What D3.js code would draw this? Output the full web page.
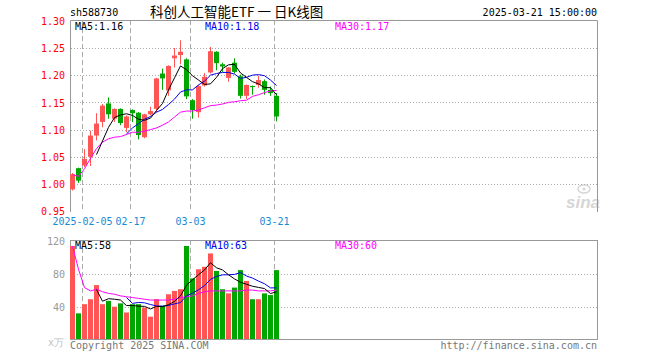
<!DOCTYPE html>
<html>
<head>
<meta charset="utf-8">
<script src="https://cdn.jsdelivr.net/npm/d3@7"></script>
<style>
  body { margin: 0; background: #fff; }
  text { font-family: "DejaVu Sans Mono", monospace; font-size: 10px; }
</style>
</head>
<body>
<div id="chart"></div>
<script>
// Data
const dates = [
  "2025-01-24", "2025-01-27", "2025-02-05", "2025-02-06", "2025-02-07",
  "2025-02-10", "2025-02-11", "2025-02-12", "2025-02-13", "2025-02-14",
  "2025-02-17", "2025-02-18", "2025-02-19", "2025-02-20", "2025-02-21",
  "2025-02-24", "2025-02-25", "2025-02-26", "2025-02-27", "2025-02-28",
  "2025-03-03", "2025-03-04", "2025-03-05", "2025-03-06", "2025-03-07",
  "2025-03-10", "2025-03-11", "2025-03-12", "2025-03-13", "2025-03-14",
  "2025-03-17", "2025-03-18", "2025-03-19", "2025-03-20", "2025-03-21",
];
const open = [
  0.991, 1.030, 1.035, 1.051, 1.090, 1.115, 1.149, 1.121, 1.139, 1.104,
  1.137, 1.132, 1.087, 1.129, 1.139, 1.204, 1.173, 1.232, 1.238, 1.230,
  1.155, 1.133, 1.182, 1.206, 1.244, 1.221, 1.196, 1.224, 1.199, 1.163,
  1.181, 1.183, 1.190, 1.174, 1.163,
];
const high = [
  1.021, 1.031, 1.065, 1.099, 1.131, 1.148, 1.160, 1.140, 1.140, 1.127,
  1.138, 1.133, 1.130, 1.143, 1.196, 1.213, 1.219, 1.251, 1.265, 1.232,
  1.157, 1.183, 1.205, 1.253, 1.245, 1.224, 1.216, 1.232, 1.202, 1.184,
  1.182, 1.200, 1.193, 1.180, 1.168,
];
const low = [
  0.989, 1.003, 1.032, 1.034, 1.081, 1.105, 1.121, 1.115, 1.109, 1.096,
  1.115, 1.083, 1.085, 1.127, 1.133, 1.174, 1.163, 1.215, 1.221, 1.157,
  1.121, 1.123, 1.180, 1.204, 1.210, 1.207, 1.189, 1.204, 1.158, 1.157,
  1.165, 1.178, 1.165, 1.163, 1.116,
];
const close = [
  1.019, 1.007, 1.047, 1.090, 1.112, 1.145, 1.129, 1.139, 1.113, 1.125,
  1.131, 1.091, 1.129, 1.135, 1.195, 1.195, 1.218, 1.237, 1.244, 1.162,
  1.137, 1.181, 1.198, 1.245, 1.223, 1.217, 1.215, 1.207, 1.163, 1.183,
  1.179, 1.192, 1.174, 1.168, 1.125,
];
const ma5 = [
  null, null, null, null, 1.055, 1.080, 1.105, 1.123, 1.128, 1.130,
  1.127, 1.120, 1.118, 1.122, 1.136, 1.149, 1.174, 1.196, 1.218, 1.211,
  1.200, 1.192, 1.184, 1.185, 1.197, 1.213, 1.220, 1.221, 1.205, 1.197,
  1.189, 1.185, 1.178, 1.178, 1.165,
];
const ma10 = [
  null, null, null, null, null, null, null, null, null, 1.093,
  1.104, 1.112, 1.120, 1.125, 1.133, 1.138, 1.147, 1.157, 1.170, 1.174,
  1.174, 1.183, 1.190, 1.201, 1.204, 1.206, 1.206, 1.203, 1.195, 1.197,
  1.201, 1.202, 1.200, 1.192, 1.182,
];
const ma30 = [
  1.018, 1.015, 1.029, 1.048, 1.066, 1.078, 1.084, 1.087, 1.088, 1.092,
  1.096, 1.096, 1.098, 1.101, 1.104, 1.109, 1.115, 1.124, 1.133, 1.135,
  1.135, 1.137, 1.141, 1.145, 1.146, 1.148, 1.151, 1.152, 1.154, 1.155,
  1.162, 1.165, 1.169, 1.172, 1.173,
];
const volume = [
  114, 33, 44, 50, 67, 44, 48, 41, 45, 34,
  44, 44, 40, 29, 50, 42, 56, 60, 62, 114,
  75, 86, 89, 105, 84, 62, 57, 64, 85, 72,
  50, 50, 57, 55, 85,
];
const vma5 = [
  null, null, null, null, 61.6, 47.6, 50.6, 50.0, 49.0, 42.4,
  42.4, 41.6, 41.4, 38.2, 41.4, 41.0, 43.4, 47.4, 54.0, 66.8,
  73.4, 79.4, 85.2, 93.8, 87.8, 85.2, 79.4, 74.4, 70.4, 68.0,
  65.6, 64.2, 62.8, 56.8, 59.0,
];
const vma10 = [
  null, null, null, null, null, null, null, null, null, 52.0,
  45.0, 46.1, 45.7, 43.6, 41.9, 41.7, 42.5, 44.4, 46.1, 54.1,
  57.2, 61.4, 66.3, 73.9, 77.3, 79.3, 79.4, 79.8, 82.1, 77.9,
  75.4, 71.8, 68.6, 63.6, 63.7,
];
const vma30 = [
  114, 86, 64, 60, 62, 59, 57, 56, 54, 53,
  52, 51, 50, 49, 49, 49, 49, 50, 52, 53,
  54, 57, 59, 60, 60, 60, 60, 60, 60, 61,
  61, 60, 60, 60, 61,
];
const priceTicks = [0.95, 1.0, 1.05, 1.1, 1.15, 1.2, 1.25, 1.3];
const volumeTicks = [40, 80, 120];
const dateTicks = ["2025-02-05", "2025-02-17", "2025-03-03", "2025-03-21"];
const dateLabels = ["2025-02-05", "02-17", "03-03", "03-21"];

function draw() {
  // Dimensions
  const dims = {
    width: 660,
    height: 360,
    left: 70,
    right: 597,
    priceTop: 20,
    priceBottom: 212,
    volTop: 240,
    volBottom: 340,
  };

  const red = "#ff5555";
  const green = "#00a600";
  const gridColor = "#aaaaaa";
  const borderColor = "#999999";

  const svg = d3
    .select("#chart")
    .append("svg")
    .attr("width", dims.width)
    .attr("height", dims.height)
    .style("background", "#fff");

  // Scales
  const xScale = d3
    .scaleBand()
    .domain(dates)
    .range([dims.left, dims.left + 6 * dates.length - 1])
    .paddingInner(1 / 6);
  const bw = xScale.bandwidth();
  const cx = (i) => xScale(dates[i]) + bw / 2;

  const yScale = d3.scaleLinear().domain([0.95, 1.3]).range([211.7, 21.3]);
  const vScale = d3.scaleLinear().domain([0, 120]).range([340.8, 241]);
  const crisp = (v) => Math.floor(v) + 0.5;

  // Watermark
  const mark = svg.append("g").attr("fill", "#d6d6d6");
  mark
    .append("text")
    .attr("x", 566)
    .attr("y", 208)
    .style("font-family", "'Liberation Sans', sans-serif")
    .style("font-size", "17px")
    .style("font-weight", "bold")
    .style("font-style", "italic")
    .text("sina");
  mark
    .append("ellipse")
    .attr("cx", 584)
    .attr("cy", 189)
    .attr("rx", 6)
    .attr("ry", 4)
    .attr("fill", "none")
    .attr("stroke", "#d6d6d6")
    .attr("stroke-width", 1.5);
  mark.append("circle").attr("cx", 584).attr("cy", 189).attr("r", 1.6);

  // Grid lines
  const grid = svg.append("g").attr("stroke", gridColor).attr("stroke-width", 1);
  grid
    .selectAll(".hp")
    .data(priceTicks.filter((d) => d > 0.96 && d < 1.29))
    .join("line")
    .attr("x1", dims.left + 1)
    .attr("x2", dims.right + 2)
    .attr("y1", (d) => crisp(yScale(d)))
    .attr("y2", (d) => crisp(yScale(d)))
    .attr("stroke-dasharray", "1,2");
  grid
    .selectAll(".hv")
    .data(volumeTicks.filter((d) => d < 120))
    .join("line")
    .attr("x1", dims.left + 1)
    .attr("x2", dims.right + 2)
    .attr("y1", (d) => crisp(vScale(d)))
    .attr("y2", (d) => crisp(vScale(d)))
    .attr("stroke-dasharray", "1,2");
  [
    [dims.priceTop, dims.priceBottom],
    [dims.volTop, dims.volBottom],
  ].forEach(([y1, y2]) => {
    grid
      .append("g")
      .selectAll("line")
      .data(dateTicks)
      .join("line")
      .attr("x1", (d) => xScale(d) + 0.5)
      .attr("x2", (d) => xScale(d) + 0.5)
      .attr("y1", y1)
      .attr("y2", y2)
      .attr("stroke-dasharray", "5,3");
  });

  // Panel borders
  const border = svg
    .append("g")
    .attr("fill", "none")
    .attr("stroke", borderColor)
    .attr("stroke-width", 1);
  border
    .append("path")
    .attr(
      "d",
      `M${dims.left + 0.5},${dims.priceBottom}V${dims.priceTop + 0.5}H${dims.right + 0.5}V${dims.priceBottom}`
    );
  border
    .append("rect")
    .attr("x", dims.left + 0.5)
    .attr("y", dims.volTop + 0.5)
    .attr("width", dims.right - dims.left)
    .attr("height", dims.volBottom - dims.volTop - 1);

  // Candles
  const candles = svg
    .append("g")
    .selectAll("g")
    .data(dates)
    .join("g")
    .attr("fill", (d, i) => (close[i] >= open[i] ? red : green));
  candles
    .append("rect")
    .attr("x", (d) => xScale(d) + 2)
    .attr("width", 1)
    .attr("y", (d, i) => yScale(high[i]))
    .attr("height", (d, i) => yScale(low[i]) - yScale(high[i]));
  candles
    .append("rect")
    .attr("x", (d) => xScale(d))
    .attr("width", bw)
    .attr("y", (d, i) => yScale(Math.max(open[i], close[i])))
    .attr("height", (d, i) =>
      Math.max(1, Math.abs(yScale(open[i]) - yScale(close[i])))
    );

  // Volume bars
  svg
    .append("g")
    .selectAll("rect")
    .data(dates)
    .join("rect")
    .attr("x", (d) => xScale(d))
    .attr("width", bw)
    .attr("y", (d, i) => vScale(volume[i]))
    .attr("height", (d, i) => dims.volBottom - 1 - vScale(volume[i]))
    .attr("fill", (d, i) => (close[i] >= open[i] ? red : green));

  // Moving averages
  const drawLine = (values, scale, color) => {
    const line = d3
      .line()
      .defined((d) => d != null)
      .x((d, i) => cx(i))
      .y((d) => scale(d));
    svg
      .append("path")
      .datum(values)
      .attr("d", line)
      .attr("fill", "none")
      .attr("stroke", color)
      .attr("stroke-width", 1);
  };
  drawLine(ma30, yScale, "#ff00ff");
  drawLine(ma10, yScale, "#0000ee");
  drawLine(ma5, yScale, "#000000");
  drawLine(vma30, vScale, "#ff00ff");
  drawLine(vma10, vScale, "#0000ee");
  drawLine(vma5, vScale, "#000000");

  // Axes
  const yAxisG = svg
    .append("g")
    .attr("transform", `translate(${dims.left}, 0)`)
    .call(
      d3
        .axisLeft(yScale)
        .tickValues(priceTicks)
        .tickSize(0)
        .tickPadding(5)
        .tickFormat(d3.format(".2f"))
    );
  yAxisG.select(".domain").remove();
  yAxisG.selectAll("text").attr("fill", "#ff0000").style("font-family", null).style("font-size", null);
  yAxisG.attr("font-family", null).attr("font-size", null);

  const vAxisG = svg
    .append("g")
    .attr("transform", `translate(${dims.left}, 0)`)
    .call(d3.axisLeft(vScale).tickValues(volumeTicks).tickSize(0).tickPadding(5));
  vAxisG.select(".domain").remove();
  vAxisG.selectAll("text").attr("fill", "#999999");
  vAxisG.attr("font-family", null).attr("font-size", null);

  svg
    .append("g")
    .selectAll("text")
    .data(dateTicks)
    .join("text")
    .attr("x", (d) => xScale(d) + 0.5)
    .attr("y", 225)
    .attr("text-anchor", "middle")
    .attr("fill", "#1a8ad4")
    .text((d, i) => dateLabels[i]);

  // Texts
  const label = (x, y, txt, color, anchor = "start") =>
    svg
      .append("text")
      .attr("x", x)
      .attr("y", y)
      .attr("fill", color)
      .attr("text-anchor", anchor)
      .text(txt);

  label(70, 16, "sh588730", "#000");
  label(dims.right, 16, "2025-03-21 15:00:00", "#000", "end");
  svg
    .append("text")
    .attr("x", 150)
    .attr("y", 16.5)
    .style("font-family", "'Noto Sans CJK SC', sans-serif")
    .style("font-size", "13.5px")
    .attr("fill", "#000")
    .text("科创人工智能ETF 一 日K线图");

  label(75, 30, "MA5:1.16", "#000");
  label(205, 30, "MA10:1.18", "#0000ee");
  label(335, 30, "MA30:1.17", "#ff00ff");

  label(75, 249, "MA5:58", "#000");
  label(205, 249, "MA10:63", "#0000ee");
  label(335, 249, "MA30:60", "#ff00ff");

  label(64, 346, "x万", "#c0c0c0", "end");
  label(70, 349, "Copyright 2025 SINA.COM", "#777");
  label(dims.right, 349, "http://finance.sina.com.cn", "#777", "end");
}

draw();
</script>
</body>
</html>
